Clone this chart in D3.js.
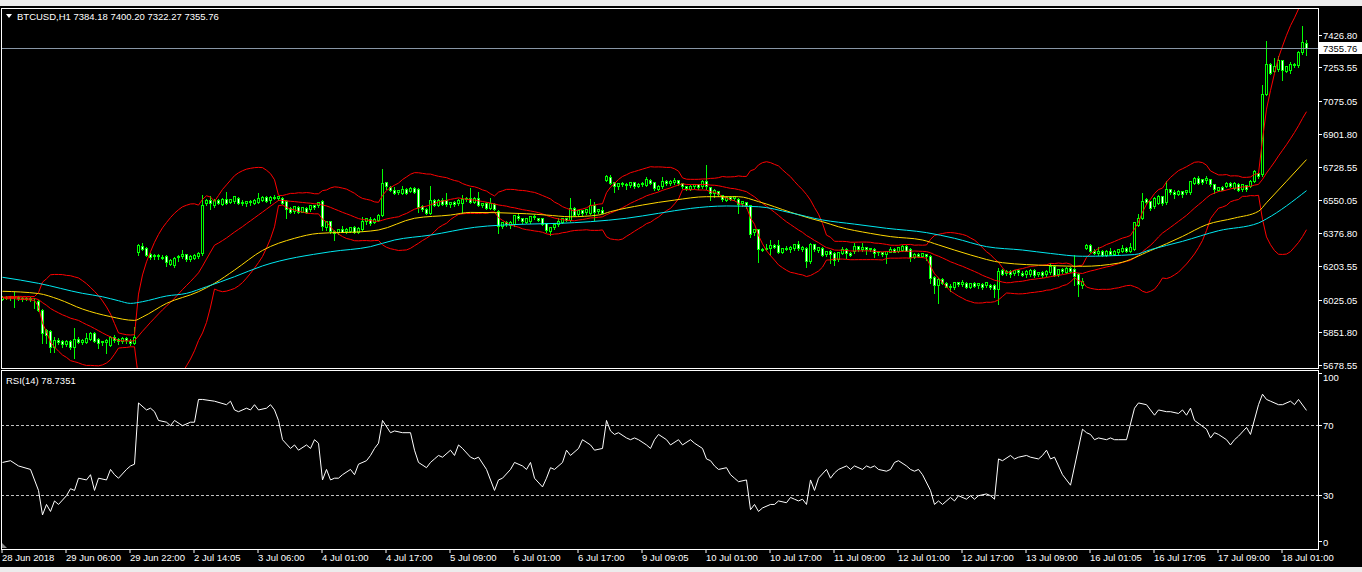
<!DOCTYPE html>
<html><head><meta charset="utf-8">
<script src="https://cdn.jsdelivr.net/npm/d3@7"></script>
<style>html,body{margin:0;padding:0;background:#000;overflow:hidden}svg{display:block}</style>
</head><body><svg id="c" width="1362" height="572"></svg>
<script>
// ---------------- DATA ----------------
const symbolTitle = "BTCUSD,H1";
const lastBar = {open: "7384.18", high: "7400.20", low: "7322.27", close: "7355.76"};
const rsiTitle = "RSI(14) 78.7351";
const currentPrice = 7355.76;

const priceTicks = [7426.80, 7253.55, 7075.05, 6901.80, 6728.55, 6550.05, 6376.80, 6203.55, 6025.05, 5851.80, 5678.55];
const rsiTicks = [100, 70, 30, 0];
const rsiLevels = [70, 30];

const timeLabelBars = [0,16,32,48,64,80,96,112,128,144,160,176,192,208,224,240,256,272,288,304,320];
const timeLabels = ["28 Jun 2018","29 Jun 06:00","29 Jun 22:00","2 Jul 14:05","3 Jul 06:00","4 Jul 01:00","4 Jul 17:00","5 Jul 09:00","6 Jul 01:00","6 Jul 17:00","9 Jul 09:05","10 Jul 01:00","10 Jul 17:00","11 Jul 09:00","12 Jul 01:00","12 Jul 17:00","13 Jul 09:00","16 Jul 01:05","16 Jul 17:05","17 Jul 09:00","18 Jul 01:00"];

const openPrices = [
6030,6040,6035,6042,6038,6030,6036,6032,6028,6020,
5973,5867,5860,5776,5814,5806,5790,5806,5775,5818,
5806,5802,5818,5850,5818,5797,5805,5790,5828,5815,
5802,5822,5808,5800,6273,6311,6299,6264,6252,6260,
6253,6258,6216,6211,6246,6252,6264,6240,6248,6258,
6272,6537,6554,6528,6554,6533,6558,6546,6546,6563,
6540,6533,6546,6540,6546,6556,
6568,6555,6570,6562,6563,6546,6510,6493,6516,6493,
6510,6502,6523,6523,6546,6405,6440,6390,6382,6399,
6390,6392,6410,6388,6396,6440,6449,6440,6449,6475,
6646,6621,6607,6590,6594,6611,6604,6616,6611,6519,
6505,6484,6554,6530,6554,6551,6528,6540,6537,6540,
6558,6563,6546,6563,6528,6537,6510,6533,6493,6413,
6435,6420,6422,6466,6455,6440,
6440,6466,6458,6458,6428,6392,6410,6424,6440,6457,
6449,6510,6475,6498,6484,6484,6528,6493,6500,6660,
6674,6646,6621,6640,6634,6630,6646,6630,6637,6634,
6660,6646,6611,6625,6651,6640,6646,6656,6640,6625,
6611,6625,6634,6625,6651,6621,6590,6598,6576,6555,
6570,6558,6558,6533,6540,6523,6378,6396,6290,6294,
6300,6316,6316,6281,6299,
6294,6294,6317,6295,6300,6229,6317,6290,6300,6264,
6281,6272,6237,6273,6294,6273,6281,6308,6290,6302,
6292,6294,6273,6276,6264,6281,6294,6285,6290,6311,
6294,6255,6269,6259,6264,6258,6145,6105,6135,6114,
6096,6088,6117,6105,6114,6096,6114,6100,6110,6100,
6105,6105,6079,6184,6163,6176,6163,6181,6167,6158,
6158,6181,6158,6170,6158,6170,
6204,6160,6186,6174,6195,6186,6160,6107,6301,6315,
6283,6274,6283,6266,6283,6270,6276,6283,6300,6287,
6292,6421,6462,6556,6544,6517,6539,6574,6539,6609,
6596,6586,6597,6590,6592,6645,6670,6662,6653,6662,
6635,6609,6621,6627,6644,6620,6639,6609,6630,6627,
6653,6697,6688,7115,7273,7235,7244,7291,7238,7235,
7270,7262,7332,7384.18];

const highPrices = [
6046,6048,6045,6070,6046,6042,6044,6040,6038,6026,
5980,5875,5868,5832,5826,5812,5812,5815,5876,5830,
5822,5853,5855,5856,5826,5810,5820,5835,5840,5825,
5830,5832,5820,5885,6320,6325,6305,6272,6268,6270,
6262,6265,6245,6252,6262,6290,6265,6262,6268,6278,
6581,6560,6576,6560,6560,6565,6598,6562,6578,6570,
6556,6550,6556,6558,6590,6578,
6575,6578,6581,6578,6572,6552,6516,6522,6522,6520,
6515,6528,6530,6545,6552,6445,6445,6395,6400,6417,
6405,6414,6415,6410,6466,6462,6466,6458,6480,6718,
6651,6630,6625,6608,6628,6616,6622,6622,6616,6528,
6510,6628,6562,6560,6563,6593,6545,6550,6560,6581,
6570,6616,6572,6598,6540,6542,6563,6540,6500,6440,
6445,6445,6475,6484,6462,6462,
6470,6475,6462,6462,6432,6413,6430,6458,6462,6462,
6563,6515,6502,6502,6505,6558,6546,6508,6519,6686,
6687,6650,6645,6648,6645,6650,6650,6645,6648,6674,
6668,6652,6632,6678,6658,6658,6669,6660,6645,6630,
6632,6640,6640,6658,6740,6625,6612,6604,6580,6575,
6576,6576,6565,6548,6545,6528,6400,6400,6300,6320,
6343,6322,6343,6302,6310,
6313,6320,6340,6310,6308,6329,6322,6308,6306,6285,
6288,6278,6280,6304,6300,6282,6329,6312,6325,6306,
6302,6300,6284,6282,6285,6304,6302,6308,6315,6316,
6300,6272,6276,6276,6270,6265,6152,6140,6140,6120,
6108,6120,6122,6132,6120,6118,6120,6118,6115,6122,
6112,6110,6193,6190,6182,6182,6185,6190,6180,6182,
6188,6188,6175,6180,6182,6220,
6210,6192,6196,6200,6202,6266,6168,6142,6320,6322,
6295,6304,6288,6290,6300,6290,6296,6315,6306,6327,
6440,6480,6592,6565,6550,6568,6580,6578,6653,6615,
6608,6605,6602,6610,6655,6675,6680,6668,6680,6668,
6640,6625,6630,6650,6650,6650,6645,6640,6635,6660,
6715,6705,7164,7393,7280,7305,7314,7296,7265,7282,
7280,7340,7473,7400.20];

const lowPrices = [
6024,6030,6028,5991,6026,6022,6026,6022,5982,5970,
5797,5797,5753,5753,5795,5779,5782,5765,5717,5800,
5795,5796,5812,5805,5770,5788,5744,5785,5805,5795,
5796,5800,5790,5795,6265,6290,6258,6240,6245,6245,
6240,6206,6210,6202,6232,6246,6230,6232,6240,6250,
6266,6530,6505,6520,6535,6528,6532,6540,6540,6535,
6526,6525,6530,6535,6540,6550,
6545,6537,6560,6552,6535,6458,6484,6488,6488,6490,
6486,6496,6505,6515,6396,6396,6378,6343,6375,6385,
6382,6385,6382,6380,6390,6430,6422,6435,6443,6468,
6615,6600,6585,6585,6588,6588,6598,6592,6493,6498,
6478,6478,6524,6522,6530,6524,6518,6522,6530,6484,
6550,6540,6540,6522,6518,6505,6505,6500,6378,6405,
6418,6405,6418,6450,6435,6435,
6435,6455,6445,6422,6388,6370,6402,6418,6435,6445,
6443,6470,6470,6476,6478,6480,6449,6484,6485,6655,
6638,6598,6615,6628,6611,6625,6620,6624,6630,6628,
6640,6605,6605,6620,6635,6635,6638,6635,6620,6605,
6608,6618,6612,6618,6615,6554,6572,6578,6550,6550,
6552,6553,6487,6525,6510,6360,6372,6228,6286,6290,
6264,6300,6276,6275,6288,
6281,6290,6290,6285,6198,6222,6285,6282,6260,6258,
6220,6211,6230,6268,6246,6258,6276,6285,6287,6269,
6286,6255,6265,6260,6220,6278,6278,6280,6285,6283,
6232,6250,6254,6252,6237,6117,6061,6012,6110,6092,
6075,6082,6100,6100,6090,6090,6095,6090,6085,6095,
6086,6043,6003,6160,6158,6150,6158,6160,6152,6148,
6152,6148,6152,6148,6152,6165,
6155,6155,6168,6170,6172,6107,6045,6089,6295,6278,
6270,6265,6260,6260,6265,6265,6270,6278,6278,6282,
6288,6415,6455,6535,6500,6510,6532,6530,6532,6585,
6565,6582,6569,6585,6585,6640,6640,6640,6645,6628,
6591,6600,6605,6622,6622,6612,6600,6600,6600,6622,
6648,6672,6682,7110,7220,7230,7238,7190,7230,7228,
7255,7255,7325,7322.27];

const closePrices = [
6040,6035,6042,6038,6030,6036,6032,6028,6026,5975,
5850,5841,5779,5814,5805,5790,5805,5770,5818,5806,
5814,5823,5850,5811,5797,5805,5812,5828,5815,5802,
5822,5808,5797,5828,6313,6296,6264,6246,6260,6253,
6246,6228,6237,6246,6255,6264,6238,6256,6262,6272,
6528,6554,6540,6554,6541,6558,6537,6558,6572,6540,
6533,6546,6537,6554,6563,6570,
6551,6570,6565,6572,6540,6502,6493,6519,6493,6515,
6493,6523,6510,6540,6410,6440,6387,6378,6396,6387,
6399,6410,6388,6405,6440,6455,6428,6452,6475,6643,
6621,6607,6590,6604,6611,6594,6616,6599,6519,6502,
6484,6554,6530,6554,6534,6528,6540,6530,6554,6558,
6563,6546,6563,6528,6537,6510,6537,6505,6413,6435,
6422,6438,6470,6455,6440,6458,
6466,6458,6450,6428,6392,6410,6427,6440,6457,6449,
6510,6475,6498,6481,6502,6528,6493,6502,6488,6681,
6643,6621,6640,6634,6628,6646,6625,6637,6642,6664,
6646,6611,6628,6651,6640,6651,6656,6640,6625,6611,
6628,6634,6616,6651,6621,6590,6607,6582,6555,6570,
6558,6572,6533,6545,6523,6370,6396,6290,6294,6300,
6316,6308,6281,6299,6294,
6305,6317,6295,6305,6234,6317,6290,6304,6264,6281,
6264,6237,6276,6294,6273,6264,6308,6290,6302,6292,
6298,6273,6280,6264,6280,6294,6282,6304,6311,6287,
6255,6269,6259,6272,6251,6140,6105,6135,6114,6096,
6088,6117,6105,6116,6096,6114,6100,6112,6093,6117,
6093,6082,6176,6163,6176,6158,6181,6167,6158,6176,
6181,6153,6170,6153,6176,6202,
6160,6186,6174,6195,6178,6146,6107,6125,6315,6283,
6274,6283,6266,6283,6270,6283,6292,6300,6283,6304,
6433,6459,6547,6539,6509,6562,6574,6539,6609,6591,
6586,6600,6583,6604,6650,6670,6646,6644,6667,6632,
6609,6621,6610,6644,6627,6644,6609,6635,6609,6653,
6706,6680,7111,7273,7226,7261,7291,7238,7261,7270,
7262,7332,7385,7355.76];

const yellowMABars = [0,9,14,20,27,33,35,41,49,53,58,65,73,79,90,94,103,112,117,131,136,142,149,152,160,168,176,184,189,197,202,205,209,217,222,230,234,242,250,262,270,279,287,295,301,308,314,316,326];
const yellowMAValues = [6072,6060,6030,5978,5938,5918,5936,6008,6070,6114,6184,6288,6352,6378,6387,6396,6458,6475,6489,6482,6475,6466,6475,6493,6528,6554,6572,6572,6546,6490,6457,6440,6413,6378,6361,6343,6317,6264,6223,6208,6204,6221,6287,6362,6424,6459,6495,6540,6768];
const cyanMABars = [0,9,20,25,29,32,35,41,46,51,58,65,82,92,98,107,118,131,139,147,156,164,172,181,189,197,205,213,221,231,238,246,255,262,270,283,287,295,304,314,316,326];
const cyanMAValues = [6146,6114,6061,6043,6022,6008,6017,6047,6061,6096,6149,6206,6281,6308,6343,6369,6410,6427,6431,6440,6458,6484,6510,6523,6519,6487,6449,6427,6405,6382,6352,6308,6290,6272,6257,6266,6292,6336,6392,6433,6455,6604];

// RSI(14)
const rsiBars = [0,2,4,7,9,10,11,12,13,14,16,17,18,19,21,22,23,24,26,27,28,29,31,32,33,34,36,37,38,39,41,42,43,45,47,48,49,50,53,56,57,58,59,61,62,63,64,66,67,68,69,70,72,73,74,76,77,78,79,80,81,82,83,84,85,87,88,89,91,92,93,94,95,97,98,100,102,103,104,106,107,108,109,110,112,113,114,115,117,118,119,121,123,124,125,127,128,130,131,132,133,135,136,137,138,140,141,142,144,145,147,148,150,151,152,153,154,156,157,158,159,161,162,163,164,166,167,169,170,172,173,175,176,177,178,179,181,182,183,184,186,187,188,189,190,192,193,194,196,197,198,199,200,201,202,203,204,206,207,208,209,211,212,213,215,216,217,218,219,221,222,223,224,226,227,228,229,230,232,233,234,235,237,238,239,241,242,243,244,246,247,248,249,250,252,253,254,256,257,259,260,261,262,263,265,267,270,271,272,273,274,276,277,278,279,281,283,284,286,287,288,289,291,292,294,295,296,297,298,301,302,303,304,306,307,308,309,311,312,314,315,316,317,319,320,322,323,324,326];
const rsiValues = [49,50,47,45,33,19,25,21,27,25,30,34,33,40,39,42,33,40,39,45,42,40,45,47,48,83,79,80,78,73,72,70,73,70,72,72,85,85,84,82,84,79,78,80,79,82,79,80,82,79,73,62,57,59,56,59,57,62,60,39,45,39,40,40,42,45,42,48,50,53,57,60,73,66,67,66,66,56,49,46,49,51,53,52,56,53,59,57,52,51,52,45,33,39,40,45,49,47,45,49,40,35,40,46,45,49,56,53,57,62,59,56,57,73,67,65,66,63,62,63,62,59,57,62,65,62,59,62,59,62,60,57,51,50,47,45,46,42,40,38,39,22,25,21,23,25,25,27,26,29,28,27,28,25,39,33,40,45,40,43,45,47,45,47,45,47,46,47,45,44,45,49,50,47,45,44,45,42,33,25,27,25,29,27,30,28,30,28,30,31,30,28,51,50,53,51,52,53,52,51,53,56,51,52,42,36,68,66,65,62,63,62,63,62,62,62,80,83,82,79,76,79,78,78,77,79,76,80,73,68,63,66,65,62,59,62,64,69,65,82,88,85,84,82,82,84,82,85,78.7351];

// ---------------- DRAWING ----------------
const svg = d3.select("#c");
const FONT = "'Liberation Sans', Arial, sans-serif";
const mainTop = 8, mainBottom = 368, rsiTop = 370, rsiBottom = 549, plotLeft = 1, plotRight = 1318;

svg.append("rect").attr("width", 1362).attr("height", 572).attr("fill", "#000");
svg.append("rect").attr("x", 0).attr("y", 0).attr("width", 1362).attr("height", 6).attr("fill", "#ececec");
svg.append("rect").attr("x", 0).attr("y", 567).attr("width", 1362).attr("height", 5).attr("fill", "#ececec");

const x = d3.scaleLinear().domain([0, 326]).range([2.5, 1306.5]);
const y = d3.scaleLinear().domain([5678.55, 7426.80]).range([365.7, 35]);
const yr = d3.scaleLinear().domain([0, 100]).range([548.2, 373.2]);

const defs = svg.append("defs");
defs.append("clipPath").attr("id", "clipMain").append("rect")
  .attr("x", plotLeft + 1).attr("y", mainTop + 1).attr("width", plotRight - plotLeft - 1).attr("height", mainBottom - mainTop - 1);
defs.append("clipPath").attr("id", "clipRsi").append("rect")
  .attr("x", plotLeft + 1).attr("y", rsiTop + 1).attr("width", plotRight - plotLeft - 1).attr("height", rsiBottom - rsiTop - 1);

const snap = v => Math.round(v - 0.5) + 0.5;

// candles
const bars = closePrices.map((c, i) => ({i, o: openPrices[i], h: highPrices[i], l: lowPrices[i], c}));
const gMain = svg.append("g").attr("clip-path", "url(#clipMain)");
const gC = gMain.append("g");
gC.selectAll("line.w").data(bars).join("line").attr("class", "w")
  .attr("x1", d => snap(x(d.i))).attr("x2", d => snap(x(d.i)))
  .attr("y1", d => Math.round(y(d.h))).attr("y2", d => Math.round(y(d.l)) + 1)
  .attr("stroke", "#00ff00").attr("stroke-width", 1);
gC.selectAll("rect.b").data(bars).join("rect").attr("class", "b")
  .attr("x", d => snap(x(d.i)) - 1)
  .attr("y", d => snap(y(Math.max(d.o, d.c))))
  .attr("width", 2)
  .attr("height", d => Math.max(0, Math.round(y(Math.min(d.o, d.c))) - Math.round(y(Math.max(d.o, d.c)))))
  .attr("fill", d => d.c < d.o ? "#ffffff" : "#000000")
  .attr("stroke", "#00ff00").attr("stroke-width", 1);

// Bollinger bands (20, 2) from the closes
const bb = closePrices.map((c, i) => {
  const w = closePrices.slice(Math.max(0, i - 19), i + 1);
  const m = d3.mean(w);
  const sd = Math.sqrt(d3.mean(w, v => (v - m) * (v - m)));
  return {i, m, up: m + 2 * sd, lo: m - 2 * sd};
});
const bbLine = key => d3.line().x(d => x(d.i)).y(d => y(d[key]));
["up", "m", "lo"].forEach(k => {
  gMain.append("path").datum(bb).attr("d", bbLine(k)).attr("fill", "none").attr("stroke", "#ff0000").attr("stroke-width", 1);
});

// moving averages
const maLine = d3.line().x(d => x(d[0])).y(d => y(d[1])).curve(d3.curveMonotoneX);
gMain.append("path").datum(yellowMABars.map((b, k) => [b, yellowMAValues[k]]))
  .attr("d", maLine).attr("fill", "none").attr("stroke", "#ffd700").attr("stroke-width", 1);
gMain.append("path").datum(cyanMABars.map((b, k) => [b, cyanMAValues[k]]))
  .attr("d", maLine).attr("fill", "none").attr("stroke", "#00e8f0").attr("stroke-width", 1);

// current price line
gMain.append("line").attr("x1", plotLeft).attr("x2", plotRight)
  .attr("y1", snap(y(currentPrice))).attr("y2", snap(y(currentPrice)))
  .attr("stroke", "#8896a6").attr("stroke-width", 1);

// RSI
const gR = svg.append("g").attr("clip-path", "url(#clipRsi)");
rsiLevels.forEach(v => {
  gR.append("line").attr("x1", plotLeft).attr("x2", plotRight).attr("y1", snap(yr(v))).attr("y2", snap(yr(v)))
    .attr("stroke", "#c0c0c0").attr("stroke-width", 1).attr("stroke-dasharray", "3,2");
});
gR.append("path").datum(rsiBars.map((b, k) => [b, rsiValues[k]]))
  .attr("d", d3.line().x(d => x(d[0])).y(d => yr(d[1])))
  .attr("fill", "none").attr("stroke", "#ffffff").attr("stroke-width", 1);

// panel borders
[[mainTop, mainBottom], [rsiTop, rsiBottom]].forEach(([t, b]) => {
  svg.append("rect").attr("x", plotLeft + 0.5).attr("y", t + 0.5).attr("width", plotRight - plotLeft).attr("height", b - t)
    .attr("fill", "none").attr("stroke", "#ffffff").attr("stroke-width", 1);
});

// price axis
const gP = svg.append("g");
priceTicks.forEach(p => {
  const yy = snap(y(p));
  gP.append("line").attr("x1", plotRight).attr("x2", plotRight + 4).attr("y1", yy).attr("y2", yy).attr("stroke", "#fff");
  gP.append("text").attr("x", plotRight + 5).attr("y", yy).attr("dy", "0.35em").attr("fill", "#fff")
    .attr("font-family", FONT).attr("font-size", 9.5).text(p.toFixed(2));
});
// current price tag
gP.append("rect").attr("x", plotRight + 1).attr("y", Math.round(y(currentPrice)) - 6).attr("width", 43).attr("height", 12).attr("fill", "#fff");
gP.append("text").attr("x", plotRight + 5).attr("y", snap(y(currentPrice))).attr("dy", "0.35em").attr("fill", "#000")
  .attr("font-family", FONT).attr("font-size", 9.5).text(currentPrice.toFixed(2));

// RSI axis
rsiTicks.forEach(v => {
  const yy = snap(yr(v));
  const ty = v === 100 ? yy + 4 : (v === 0 ? yy - 6 : yy);
  svg.append("line").attr("x1", plotRight).attr("x2", plotRight + 4).attr("y1", v === 0 ? yy - 7 : yy).attr("y2", v === 0 ? yy - 7 : yy).attr("stroke", "#fff");
  svg.append("text").attr("x", plotRight + 5).attr("y", ty).attr("dy", "0.35em").attr("fill", "#fff")
    .attr("font-family", FONT).attr("font-size", 9.5).text(v);
});

// time axis
timeLabelBars.forEach((b, k) => {
  const xx = snap(x(b)) - 0.5;
  svg.append("line").attr("x1", xx).attr("x2", xx).attr("y1", rsiBottom).attr("y2", rsiBottom + 4).attr("stroke", "#fff");
  svg.append("text").attr("x", xx).attr("y", 561).attr("fill", "#fff")
    .attr("font-family", FONT).attr("font-size", 9.5).text(timeLabels[k]);
});

// titles
svg.append("path").attr("d", "M6,14 L12,14 L9,18 Z").attr("fill", "#fff");
svg.append("text").attr("x", 17).attr("y", 20).attr("fill", "#fff").attr("font-family", FONT).attr("font-size", 9.5)
  .text(symbolTitle + "  " + [lastBar.open, lastBar.high, lastBar.low, lastBar.close].join(" "));
svg.append("text").attr("x", 6).attr("y", 384).attr("fill", "#fff").attr("font-family", FONT).attr("font-size", 9.5)
  .text(rsiTitle);
svg.append("path").attr("d", "M2,543 L2,548 L7,548 Z").attr("fill", "#8a8a8a");
</script>
</body></html>
